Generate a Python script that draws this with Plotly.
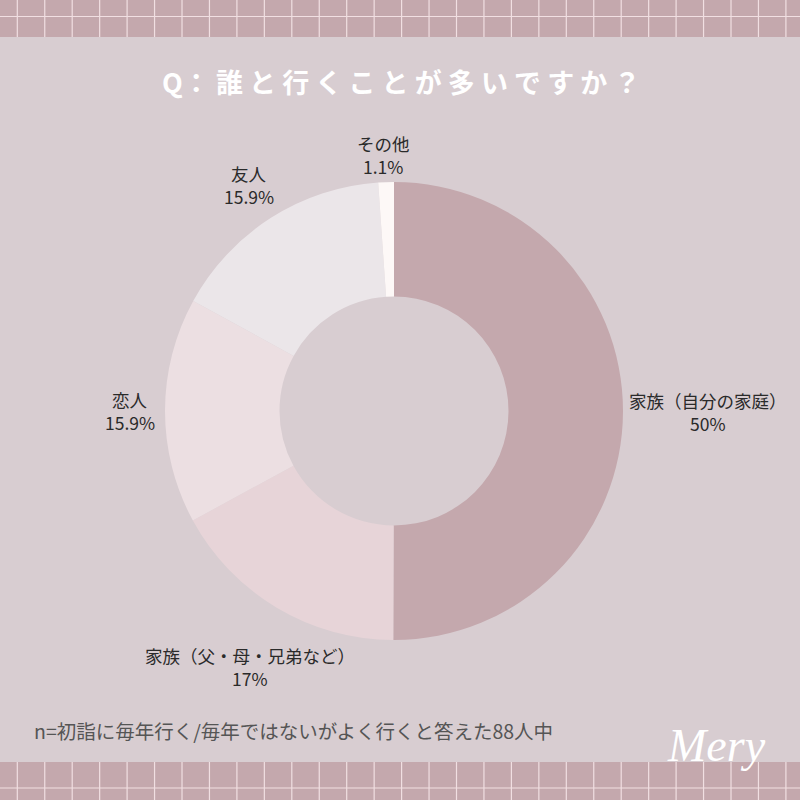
import plotly.graph_objects as go

labels = ["家族（自分の家庭）", "家族（父・母・兄弟など）", "恋人", "友人", "その他"]
values = [50, 17, 15.9, 15.9, 1.1]
pct_text = ["50%", "17%", "15.9%", "15.9%", "1.1%"]
colors = ["#c4a8ad", "#e7d4d8", "#ecdfe2", "#ebe6e9", "#fdf8f7"]

title_text = "Q：誰と行くことが多いですか？"
note_text = "n=初詣に毎年行く/毎年ではないがよく行くと答えた88人中"
logo_text = "Mery"

BG = "#d8cdd1"
BAND = "#c4a8ad"
GRID = "#f1dfe2"
FONT = "Noto Sans CJK JP"

W = H = 800

fig = go.Figure()
fig.add_trace(go.Pie(
    labels=labels, values=values, hole=0.5, sort=False, direction="clockwise",
    rotation=0, marker=dict(colors=colors, line=dict(width=0)),
    textinfo="none", hoverinfo="label+percent", showlegend=False,
    domain=dict(x=[165 / W, 623 / W], y=[1 - 640 / H, 1 - 182 / H]),
))

shapes = []
def px(x):
    return x / W
def py(y):
    return 1 - y / H

# top and bottom bands
for y0, y1, hy in [(0, 37, 16.5), (762, 800, 788)]:
    shapes.append(dict(type="rect", xref="paper", yref="paper", x0=0, x1=1,
                       y0=py(y1), y1=py(y0), fillcolor=BAND, line=dict(width=0), layer="below"))
    shapes.append(dict(type="line", xref="paper", yref="paper", x0=0, x1=1,
                       y0=py(hy), y1=py(hy), line=dict(color=GRID, width=1.2)))
    x = 17.3
    while x < W:
        shapes.append(dict(type="line", xref="paper", yref="paper", x0=px(x), x1=px(x),
                           y0=py(y1), y1=py(y0), line=dict(color=GRID, width=1.2)))
        x += 27.45

annotations = []
label_pos = [(708, 412), (250, 667), (130, 411), (249, 185), (383, 155)]
for lab, pt, (x, y) in zip(labels, pct_text, label_pos):
    for txt, yy in [(lab, y - 11.5), (pt, y + 11.5)]:
        annotations.append(dict(
            x=px(x), y=py(yy), xref="paper", yref="paper", showarrow=False,
            text=txt, align="center", xanchor="center", yanchor="middle",
            font=dict(family=FONT, size=17.5, color="#2a2a2a"),
        ))

annotations.append(dict(
    x=px(401), y=py(81), xref="paper", yref="paper", showarrow=False,
    text=f"<b>{' '.join(title_text)}</b>".replace("Q ", "Q"), xanchor="center", yanchor="middle",
    font=dict(family=FONT, size=27, color="#ffffff"),
))
annotations.append(dict(
    x=px(32), y=py(730), xref="paper", yref="paper", showarrow=False,
    text=note_text, xanchor="left", yanchor="middle",
    font=dict(family=FONT, size=19.5, color="#555555"),
))
annotations.append(dict(
    x=px(716), y=py(745), xref="paper", yref="paper", showarrow=False,
    text=f"<i>{logo_text}</i>", xanchor="center", yanchor="middle",
    font=dict(family="Liberation Serif", size=46, color="#ffffff"),
))

fig.update_layout(
    width=W, height=H, margin=dict(l=0, r=0, t=0, b=0),
    paper_bgcolor=BG, plot_bgcolor=BG,
    shapes=shapes, annotations=annotations,
)

fig.write_html("out.html", config={"displayModeBar": False},
               post_script="document.body.style.margin='0';document.body.style.overflow='hidden';")
